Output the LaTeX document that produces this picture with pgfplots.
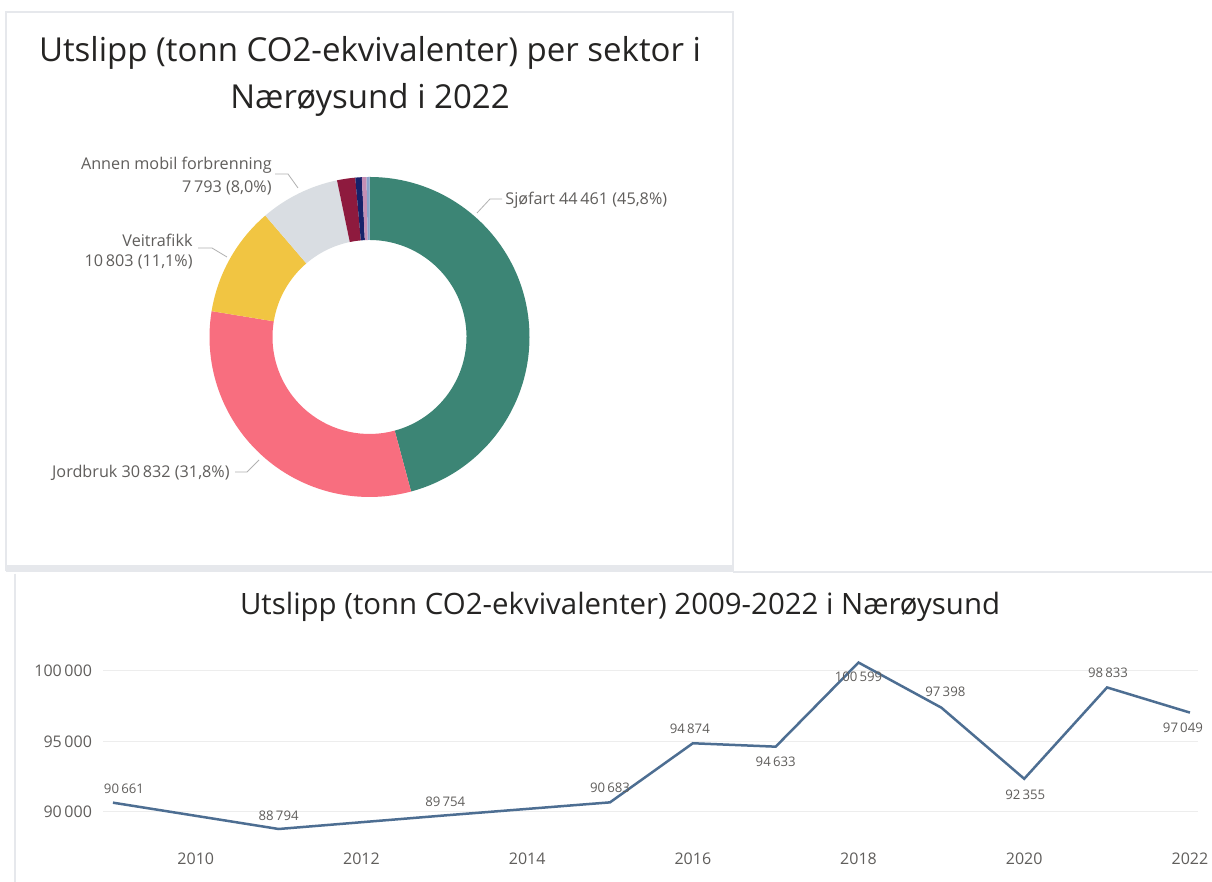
\documentclass[border=0pt]{standalone}
\usepackage{pgfplots}
\pgfplotsset{compat=1.18}
\usepackage{pgfplotstable}
\usepackage{fontspec}
\setmainfont{Open Sans}
\definecolor{dc0}{HTML}{3C8575}
\definecolor{dc1}{HTML}{F86E7F}
\definecolor{dc2}{HTML}{F1C542}
\definecolor{dc3}{HTML}{D9DDE2}
\definecolor{dc4}{HTML}{8E1A3E}
\definecolor{dc5}{HTML}{16216A}
\definecolor{dc6}{HTML}{C58FB5}
\definecolor{dc7}{HTML}{8AA3CB}
\definecolor{titlec}{HTML}{252423}
\definecolor{labc}{HTML}{605E5C}
\definecolor{linec}{HTML}{4D6E92}
\definecolor{panel}{HTML}{E6E8EC}

% 2022 emissions per sector (tonn CO2-ekv.), clockwise from top
\pgfplotstableread{
sector value
Sjofart 44461
Jordbruk 30832
Veitrafikk 10803
Annen 7793
S5 1780
S6 640
S7 450
S8 290
}\donut

% yearly totals
\pgfplotstableread{
year value dx dy
2009 90661 5.5 6.9
2011 88794 0 6.6
2013 89754 0.5 6.9
2015 90683 0 7.2
2016 94874 -1.5 7.1
2017 94633 0 -7.6
2018 100599 0 -7.2
2019 97398 2 7.8
2020 92355 0.5 -8.1
2021 98833 0.5 7.3
2022 97049 -3.5 -7.8
}\trend

\begin{document}
\begin{tikzpicture}
\useasboundingbox (0,0) rectangle (606pt,441pt);
\fill[white] (0,0) rectangle (606pt,441pt);
% panels
\draw[panel, line width=1pt] (3pt,435pt) rectangle (366.5pt,156pt);
\fill[panel] (3pt,155pt) rectangle (366.5pt,158.5pt);
\draw[panel, line width=1pt] (366.5pt,155pt) -- (606pt,155pt);
\draw[panel, line width=1pt] (7.5pt,154pt) -- (7.5pt,0pt);

% titles
\node[text=titlec, font=\fontsize{16.5}{19}\selectfont] at (185pt,414.5pt) {Utslipp (tonn CO2-ekvivalenter) per sektor i};
\node[text=titlec, font=\fontsize{16.5}{19}\selectfont] at (185pt,391pt) {Nærøysund i 2022};
\node[text=titlec, font=\fontsize{14.7}{17}\selectfont] at (310pt,137.5pt) {Utslipp (tonn CO2-ekvivalenter) 2009-2022 i Nærøysund};

% donut angles from the data
\def\tot{0}
\pgfplotsforeachungrouped \i in {0,...,7}{%
  \pgfplotstablegetelem{\i}{value}\of\donut
  \xdef\tot{\fpeval{\tot+\pgfplotsretval}}%
}
\def\cum{0}
\pgfplotsforeachungrouped \i in {0,...,7}{%
  \pgfplotstablegetelem{\i}{value}\of\donut
  \expandafter\xdef\csname as\i\endcsname{\fpeval{90-360*\cum/\tot}}%
  \xdef\cum{\fpeval{\cum+\pgfplotsretval}}%
  \expandafter\xdef\csname ae\i\endcsname{\fpeval{90-360*\cum/\tot}}%
}

\begin{axis}[hide axis, scale only axis, width=160pt, height=160pt,
  xmin=-1, xmax=1, ymin=-1, ymax=1,
  at={(184.75pt,272.5pt)}, anchor=center]
\pgfplotsinvokeforeach{0,...,7}{%
  \edef\doit{\noexpand\fill[dc#1, shift={(axis cs:0,0)}]
    (\csname as#1\endcsname:80pt)
    arc[start angle=\csname as#1\endcsname, end angle=\csname ae#1\endcsname, radius=80pt]
    -- (\csname ae#1\endcsname:48.5pt)
    arc[start angle=\csname ae#1\endcsname, end angle=\csname as#1\endcsname, radius=48.5pt]
    -- cycle;}%
  \doit
}
\end{axis}

% donut labels
\begin{scope}[every node/.style={text=labc, font=\fontsize{8.1}{9.5}\selectfont, inner sep=0pt}]
\draw[gray!60, line width=0.4pt] (238.5pt,334.5pt) -- (245pt,341.5pt) -- (251pt,341.5pt);
\node[anchor=west] at (252.5pt,341pt) {Sjøfart 44\,461 (45,8\%)};
\draw[gray!60, line width=0.4pt] (137.5pt,354pt) -- (144pt,354pt) -- (149pt,347pt);
\node[anchor=east] at (136pt,358.5pt) {Annen mobil forbrenning};
\node[anchor=east] at (136pt,347pt) {7\,793 (8,0\%)};
\draw[gray!60, line width=0.4pt] (99pt,317pt) -- (106pt,317pt) -- (113.5pt,312.5pt);
\node[anchor=east] at (96.5pt,321pt) {Veitrafikk};
\node[anchor=east] at (96.5pt,310pt) {10\,803 (11,1\%)};
\draw[gray!60, line width=0.4pt] (117.5pt,205pt) -- (123.5pt,205pt) -- (129.5pt,211pt);
\node[anchor=east] at (115pt,204.5pt) {Jordbruk 30\,832 (31,8\%)};
\end{scope}

% line chart
\begin{axis}[scale only axis, width=547.6pt, height=93.06pt,
  at={(51.5pt,20.9pt)}, anchor=south west,
  xmin=2008.88, xmax=2022.1, ymin=88000, ymax=101200,
  scaled y ticks=false, scaled x ticks=false,
  axis line style={draw=none}, major tick length=0pt,
  ymajorgrids, grid style={color=black!7, line width=0.5pt},
  ytick={90000,95000,100000}, yticklabels={90\,000,95\,000,100\,000},
  xtick={2010,2012,2014,2016,2018,2020,2022},
  xticklabels={2010,2012,2014,2016,2018,2020,2022},
  ticklabel style={text=labc, font=\fontsize{8}{9}\selectfont},
  yticklabel style={xshift=-2pt},
  xticklabel style={yshift=-3pt},
  clip=false]
\addplot[linec, line width=1.25pt, mark=none,
  visualization depends on={\thisrow{dx} \as \dx},
  visualization depends on={\thisrow{dy} \as \dy},
  point meta=y,
  nodes near coords={\pgfmathprintnumber[fixed, precision=0, 1000 sep={\,}, assume math mode=true]{\pgfplotspointmeta}},
  every node near coord/.append style={anchor=center, inner sep=0pt, xshift=\dx pt, yshift=\dy pt, text=labc, font=\fontsize{6.6}{8}\selectfont}]
  table[x=year, y=value] {\trend};
\end{axis}
\end{tikzpicture}
\end{document}
